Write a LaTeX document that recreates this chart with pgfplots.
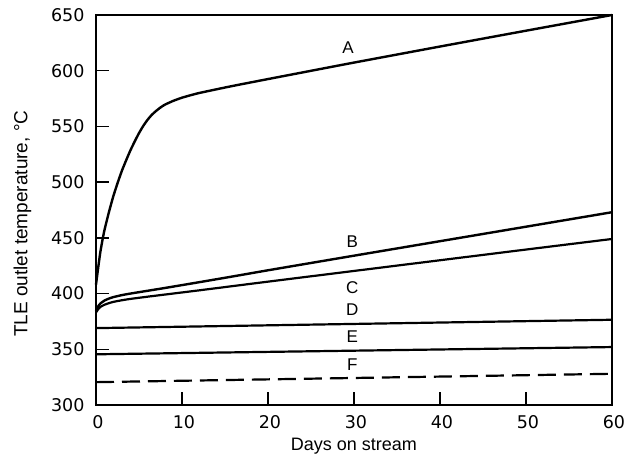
\documentclass[border=0pt]{standalone}
\usepackage{fontspec}
\setmainfont{Liberation Sans}
\newfontfamily\tickfont{DejaVu Sans}
\usepackage{pgfplots}
\pgfplotsset{compat=1.18}
\begin{document}
\begin{tikzpicture}
\path[use as bounding box] (-96pt,-52pt) rectangle (531pt,405pt);
\begin{axis}[
  at={(0,0)}, anchor=south west,
  scale only axis, width=516pt, height=390pt,
  xmin=0, xmax=60, ymin=300, ymax=650,
  xtick={0,10,...,60}, ytick={300,350,...,650},
  tick align=inside, major tick length=13pt,
  xtick pos=bottom, ytick pos=left,
  axis line style={line width=1.6pt},
  every tick/.style={line width=1.3pt, black},
  /pgf/number format/assume math mode=true,
  tick label style={font=\tickfont\fontsize{17.5}{19}\selectfont},
  xticklabel style={anchor=base, yshift=-24pt, xshift=2pt},
  yticklabel style={anchor=east, xshift=-8pt},
  xlabel={Days on stream}, ylabel={TLE outlet temperature, °C},
  xlabel style={font=\fontsize{18}{20}\selectfont, at={(axis description cs:0.5,0)}, anchor=base, yshift=-46pt},
  ylabel style={font=\fontsize{19}{21}\selectfont, at={(axis description cs:-0.1424,0.465)}, anchor=center},
  clip=false,
]
\addplot[black, line width=2.4pt, smooth, tension=0.3] coordinates {
 (0,408) (0.25,423) (0.5,437) (0.75,448) (1,457.5) (1.5,473) (2,487) (2.5,499) (3,510) (3.5,519.5) (4,528.5) (4.5,536.5) (5,544) (5.5,550.5) (6,556) (6.5,560.5) (7,564) (7.5,567) (8,569.5) (9,573) (10,575.8) (11,578) (12,580) (14,583.3) (16,586.5) (20,592.5) (26,601.4) (30,607.3) (40,621.7) (50,635.9) (60,650)};
\addplot[black, line width=2.4pt, smooth, tension=0.3] coordinates {
 (0,384) (0.25,388.5) (0.5,391) (1,393.8) (1.5,395.5) (2,396.8) (3,398.6) (4,400) (6,402.5) (8,405) (10,407.6) (12,410.2) (16,415.5) (20,420.9) (30,434) (40,447) (50,460) (60,473)};
\addplot[black, line width=2.2pt, smooth, tension=0.3] coordinates {
 (0,383) (0.25,386) (0.5,388) (1,390) (1.5,391.4) (2,392.5) (3,394) (4,395.2) (6,397.2) (8,399.1) (10,401) (12,402.9) (16,406.8) (20,410.7) (30,420.3) (40,429.9) (50,439.5) (60,449)};
\addplot[black, line width=2.2pt] coordinates {(0,369) (60,376.5)};
\addplot[black, line width=2.2pt] coordinates {(0,345.5) (60,352)};
\addplot[black, line width=2.2pt, dash pattern=on 18pt off 8pt] coordinates {(0,320.5) (60,328)};
\node[font=\fontsize{17}{19}\selectfont] at (axis cs:29.3,621) {A};
\node[font=\fontsize{17}{19}\selectfont] at (axis cs:29.8,447) {B};
\node[font=\fontsize{17}{19}\selectfont] at (axis cs:29.8,405) {C};
\node[font=\fontsize{17}{19}\selectfont] at (axis cs:29.8,385.5) {D};
\node[font=\fontsize{17}{19}\selectfont] at (axis cs:29.8,361) {E};
\node[font=\fontsize{17}{19}\selectfont] at (axis cs:29.8,336) {F};
\end{axis}
\end{tikzpicture}
\end{document}
